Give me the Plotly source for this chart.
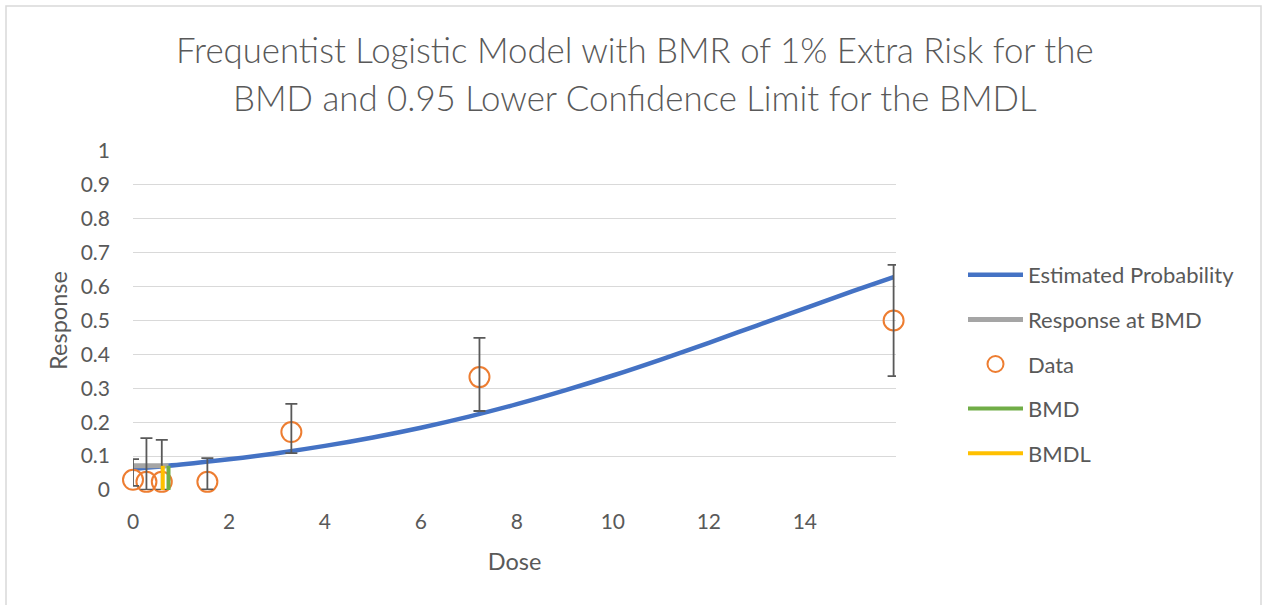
import plotly.graph_objects as go

# Fitted logistic curve (dose, estimated probability)
curve_dose = [0, 1, 2, 3, 4, 5, 6, 7, 8, 9, 10, 11, 12, 13, 14, 15, 15.85]
curve_prob = [0.0620, 0.0750, 0.0904, 0.1087, 0.1302, 0.1551, 0.1838, 0.2165,
              0.2532, 0.2938, 0.3378, 0.3849, 0.4343, 0.4851, 0.5361, 0.5864, 0.6278]

# Observed incidence with confidence limits
data_dose = [0, 0.28, 0.6, 1.55, 3.3, 7.22, 15.85]
data_resp = [0.030, 0.024, 0.024, 0.024, 0.171, 0.333, 0.500]
data_upper = [0.091, 0.153, 0.148, 0.094, 0.254, 0.449, 0.664]
data_lower = [0.012, 0.001, 0.001, 0.002, 0.109, 0.233, 0.336]

# Benchmark dose results
bmd = 0.74
bmdl = 0.62
resp_at_bmd = 0.0714

TEXT = "#595959"
FONT = "Lato"

# plot area in pixels
W, H = 1262, 605
L, R, T, B = 133, 366, 151, 115
PW, PH = W - L - R, H - T - B


def px_x(px):
    return (px - L) / PW


def px_y(py):
    return (H - B - py) / PH


fig = go.Figure()

fig.add_trace(go.Scatter(
    x=curve_dose, y=curve_prob, mode="lines", name="Estimated Probability",
    line=dict(color="#4472C4", width=4.5, shape="spline"), legendgroup="a",
))
fig.add_trace(go.Scatter(
    x=[0, bmd], y=[resp_at_bmd, resp_at_bmd], mode="lines", name="Response at BMD",
    line=dict(color="#A5A5A5", width=5), legendgroup="b",
))
fig.add_trace(go.Scatter(
    x=data_dose, y=data_resp, mode="markers", name="Data",
    marker=dict(symbol="circle-open", size=20, color="#ED7D31", line=dict(width=2, color="#ED7D31")),
    cliponaxis=False, legendgroup="c",
))
fig.add_trace(go.Scatter(
    x=data_dose, y=data_resp, mode="markers", showlegend=False, hoverinfo="skip",
    marker=dict(size=1, opacity=0),
    error_y=dict(
        type="data", symmetric=False,
        array=[u - r for u, r in zip(data_upper, data_resp)],
        arrayminus=[r - lo for r, lo in zip(data_resp, data_lower)],
        color="#595959", thickness=1.8, width=6,
    ),
))
fig.add_trace(go.Scatter(
    x=[bmd, bmd], y=[0, resp_at_bmd], mode="lines", name="BMD",
    line=dict(color="#70AD47", width=4), legendgroup="d",
))
fig.add_trace(go.Scatter(
    x=[bmdl, bmdl], y=[0, resp_at_bmd], mode="lines", name="BMDL",
    line=dict(color="#FFC000", width=4), legendgroup="e",
))

title_lines = [
    "Frequentist Logistic Model with BMR of 1% Extra Risk for the",
    "BMD and 0.95 Lower Confidence Limit for the BMDL",
]
annotations = []
for i, line in enumerate(title_lines):
    annotations.append(dict(
        text=line, xref="paper", yref="paper", x=px_x(635), y=px_y(50 + 47 * i),
        xanchor="center", yanchor="middle", showarrow=False,
        font=dict(family=FONT, size=34.8, color=TEXT, weight=300),
    ))

fig.update_layout(
    width=W, height=H,
    margin=dict(l=L, r=R, t=T, b=B),
    paper_bgcolor="white", plot_bgcolor="white",
    font=dict(family=FONT, color=TEXT),
    annotations=annotations,
    showlegend=True,
    legend=dict(
        x=px_x(963), y=px_y(254), xanchor="left", yanchor="top",
        font=dict(family=FONT, size=22, color=TEXT),
        tracegroupgap=13, itemwidth=55, bgcolor="rgba(0,0,0,0)",
    ),
    shapes=[dict(
        type="rect", xref="paper", yref="paper",
        x0=px_x(6), x1=px_x(1261), y0=px_y(6), y1=px_y(620),
        line=dict(color="#d9d9d9", width=1.5), layer="below",
    )],
)
fig.update_xaxes(
    range=[0, 15.9], dtick=2, tick0=0, showgrid=False, zeroline=False, showline=False,
    tickfont=dict(size=21, color=TEXT), ticklabelstandoff=17,
    title=dict(text="Dose", font=dict(size=23.5, color=TEXT), standoff=21),
)
fig.update_yaxes(
    range=[0, 1], dtick=0.1, tick0=0, showgrid=True, gridcolor="#d9d9d9", gridwidth=1.3,
    zeroline=False, showline=False,
    tickfont=dict(size=21, color=TEXT), ticklabelstandoff=22,
    title=dict(text="Response", font=dict(size=23.5, color=TEXT), standoff=6),
)

fig.write_html("out.html")
